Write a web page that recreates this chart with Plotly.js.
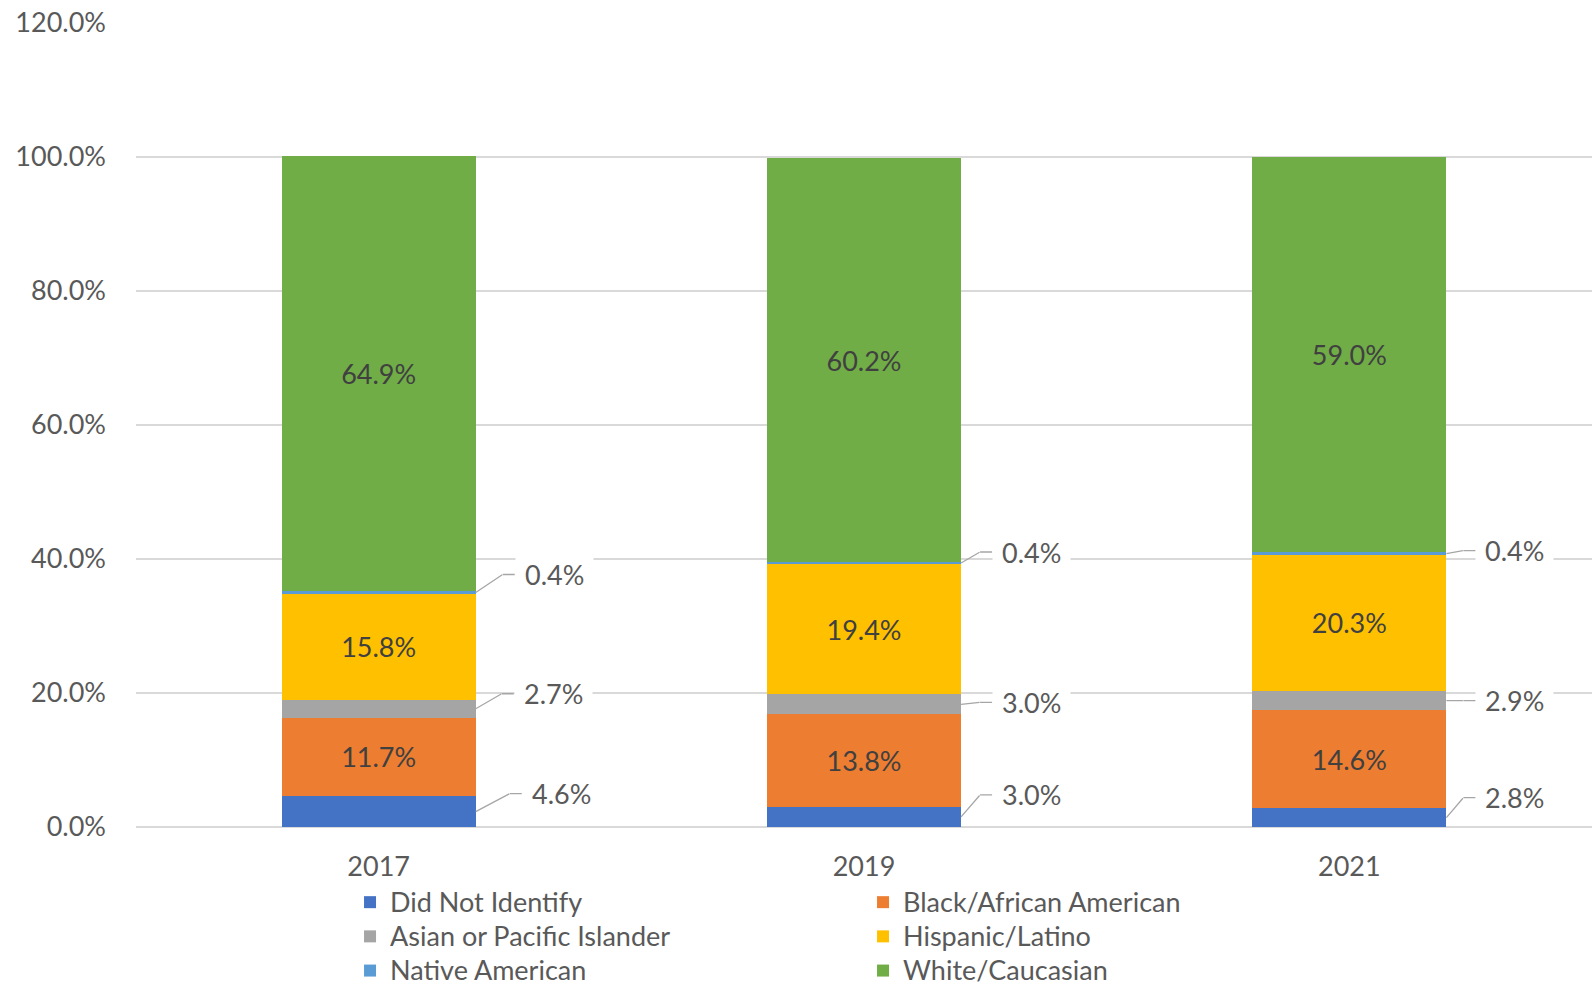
<!DOCTYPE html>
<html>
<head>
<meta charset="utf-8">
<script src="https://cdn.plot.ly/plotly-3.0.1.min.js"></script>
<style>html,body{margin:0;padding:0;background:#fff;}#chart{width:1592px;height:986px;}</style>
</head>
<body>
<div id="chart"></div>
<script>
// ---- data ----
const years = ["2017", "2019", "2021"];
const seriesNames = ["Did Not Identify", "Black/African American", "Asian or Pacific Islander", "Hispanic/Latino", "Native American", "White/Caucasian"];
const didNotIdentify = [4.6, 3.0, 2.8];
const blackAfricanAmerican = [11.7, 13.8, 14.6];
const asianPacificIslander = [2.7, 3.0, 2.9];
const hispanicLatino = [15.8, 19.4, 20.3];
const nativeAmerican = [0.4, 0.4, 0.4];
const whiteCaucasian = [64.9, 60.2, 59.0];
const yTickValues = [0, 20, 40, 60, 80, 100, 120];

// ---- styling ----
const colors = ["#4472C4", "#ED7D31", "#A5A5A5", "#FFC000", "#5B9BD5", "#70AD47"];
const insideLabels = [false, true, false, true, false, true];
const FONT = "Lato, 'Open Sans', sans-serif";
const BARGAP = 0.6;

const allSeries = [didNotIdentify, blackAfricanAmerican, asianPacificIslander, hispanicLatino, nativeAmerican, whiteCaucasian];

const traces = allSeries.map((vals, i) => ({
  type: "bar",
  name: '<span style="font-size:27px">' + seriesNames[i] + '</span>',
  x: years,
  y: vals,
  marker: {color: colors[i]},
  text: vals.map(v => v.toFixed(1) + "%"),
  texttemplate: insideLabels[i] ? "%{text}" : "",
  textposition: insideLabels[i] ? "inside" : "none",
  insidetextanchor: "middle",
  textfont: {family: FONT, size: 27, color: "#404040"},
  hoverinfo: "y"
}));

// outside labels with elbow leader lines (pixel offsets: elbow dx, dy up)
const outsideSeries = [0, 2, 4];
const leaderOffsets = {
  0: [[34, 18], [19, 22], [17, 20]],
  2: [[26, 15], [19, 2], [17, 0]],
  4: [[27, 18], [19, 11], [17, 3]]
};
const HRUN = 12;
const annotations = [];
const halfBar = (1 - BARGAP) / 2;
outsideSeries.forEach(si => {
  years.forEach((yr, xi) => {
    let base = 0;
    for (let k = 0; k < si; k++) base += allSeries[k][xi];
    const mid = base + allSeries[si][xi] / 2;
    const [dx, dy] = leaderOffsets[si][xi];
    annotations.push({
      x: xi + halfBar, y: mid, xref: "x", yref: "y",
      text: " ", font: {size: 1}, borderpad: 0,
      showarrow: true, arrowhead: 0, arrowwidth: 1.3, arrowcolor: "#a6a6a6",
      standoff: 0, startstandoff: 0,
      ax: dx, ay: -dy
    });
    annotations.push({
      x: xi + halfBar, y: mid, xref: "x", yref: "y",
      xshift: dx, yshift: dy,
      text: allSeries[si][xi].toFixed(1) + "%",
      font: {family: FONT, size: 27, color: "#595959"},
      bgcolor: "#ffffff", borderpad: 9,
      xanchor: "left", yanchor: "middle",
      showarrow: true, arrowhead: 0, arrowwidth: 1.3, arrowcolor: "#a6a6a6",
      standoff: 0, startstandoff: 0,
      ax: HRUN, ay: 0
    });
  });
});

const layout = {
  width: 1592, height: 986,
  margin: {l: 136, r: 0, t: 23, b: 159, autoexpand: false},
  paper_bgcolor: "#fff", plot_bgcolor: "#fff",
  barmode: "stack",
  bargap: BARGAP,
  showlegend: true,
  font: {family: FONT, color: "#595959"},
  xaxis: {
    type: "category",
    tickfont: {family: FONT, size: 27, color: "#595959"},
    ticks: "", showline: false, showgrid: false, zeroline: false,
    ticklabelstandoff: 21,
    automargin: false,
    fixedrange: true
  },
  yaxis: {
    range: [0, 120],
    tickvals: yTickValues,
    ticktext: yTickValues.map(v => v.toFixed(1) + "%"),
    tickfont: {family: FONT, size: 27, color: "#595959"},
    showgrid: true, gridcolor: "#d9d9d9", gridwidth: 1.5,
    zeroline: true, zerolinecolor: "#d9d9d9", zerolinewidth: 1.5,
    showline: false, ticks: "",
    ticklabelstandoff: 29,
    automargin: false,
    fixedrange: true
  },
  legend: {
    orientation: "h",
    x: 0.147, xanchor: "left",
    y: -0.066, yanchor: "top",
    entrywidth: 468, entrywidthmode: "pixels",
    font: {family: FONT, size: 24, color: "#595959"},
    traceorder: "normal",
    itemclick: false, itemdoubleclick: false
  },
  annotations: annotations
};

Plotly.newPlot("chart", traces, layout, {displayModeBar: false, staticPlot: true});
</script>
</body>
</html>
